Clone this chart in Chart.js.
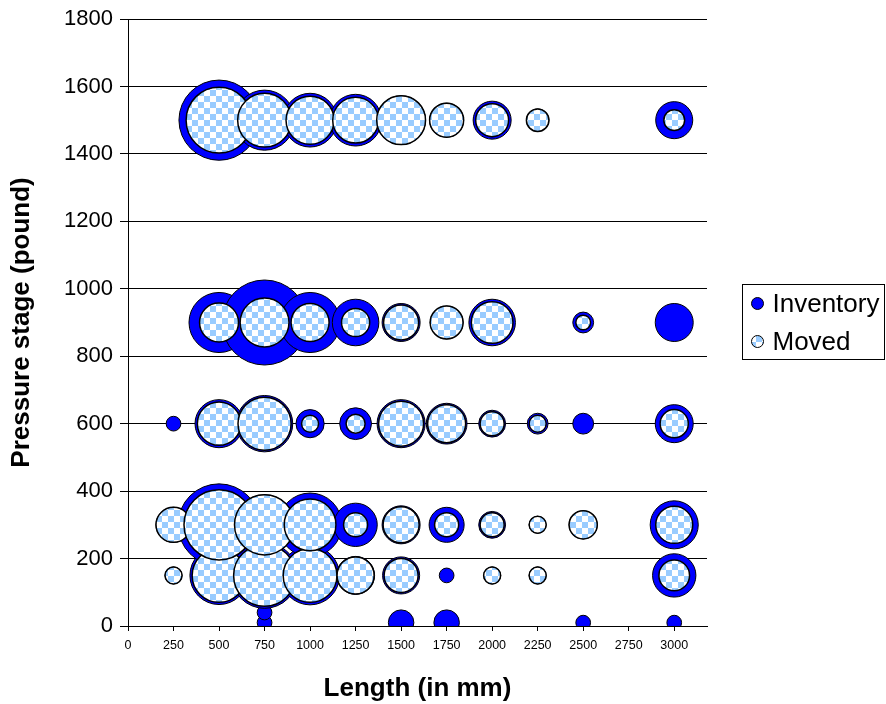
<!DOCTYPE html>
<html>
<head>
<meta charset="utf-8">
<title>Pressure stage vs length</title>
<script src="https://cdn.jsdelivr.net/npm/chart.js@4.4.1/dist/chart.umd.min.js"></script>
<style>
    html, body { margin: 0; padding: 0; background: #ffffff; }
    #wrap { width: 886px; height: 704px; position: relative; }
</style>
</head>
<body>
<div id="wrap"><canvas id="bubbleChart" width="886" height="704"></canvas></div>
<script>
// Lengths (mm) on the x axis, one column per entry below
const LENGTHS = [250, 500, 750, 1000, 1250, 1500, 1750, 2000, 2250, 2500, 2750, 3000];
// Pressure stages (pound), one row per entry below
const STAGES = [10, 40, 150, 300, 600, 900, 1500];

// Inventory counts per stage (rows) and length (columns)
const INVENTORY = [
    [null, null, 3, null, null, 9, 9, null, null, 3, null, 3],
    [null, null, 3, null, null, null, null, null, null, null, null, null],
    [4, 47, 60, 48, 20, 19, 3, 4, 4, null, null, 26],
    [17, 93, 50, 56, 26, 20, 17, 10, 4, 11, null, 32],
    [3, 32, 44, 11, 14, 32, 23, 10, 6, 6, null, 20],
    [null, 50, 100, 50, 30, 20, 15, 30, null, 6, null, 20],
    [null, 89, 50, 40, 37, 33, 16, 20, 7, null, null, 19],
];

// Moved counts per stage (rows) and length (columns)
const MOVED = [
    [null, null, null, null, null, null, null, null, null, null, null, null],
    [null, null, null, null, null, null, null, null, null, null, null, null],
    [4, 40, 53, 40, 19, 16, null, 4, 4, null, null, 13],
    [17, 68, 50, 37, 8, 18, 8, 8, 4, 11, null, 19],
    [null, 26, 39, 4, 5, 28, 20, 8, 4, null, null, 11],
    [null, 21, 33, 20, 11, 17, 15, 24, null, 3, null, null],
    [null, 60, 40, 32, 29, 33, 16, 15, 7, null, null, 6],
];

// Axis ticks
const X_TICKS = [0, 250, 500, 750, 1000, 1250, 1500, 1750, 2000, 2250, 2500, 2750, 3000];
const Y_TICKS = [0, 200, 400, 600, 800, 1000, 1200, 1400, 1600, 1800];

const SERIES_NAMES = ['Inventory', 'Moved'];

const FONT = 'Liberation Sans, Arial, sans-serif';
const BLUE = '#0000FF';
const CHECK_BLUE = '#99CCFF';
const SIZE_FACTOR = 4.25; // bubble area proportional to count

// Light blue / white checkerboard fill like the original
function makeChecker() {
    const c = document.createElement('canvas');
    c.width = 12;
    c.height = 12;
    const g = c.getContext('2d');
    g.fillStyle = '#ffffff';
    g.fillRect(0, 0, 12, 12);
    g.fillStyle = CHECK_BLUE;
    g.fillRect(0, 0, 6, 6);
    g.fillRect(6, 6, 6, 6);
    return g.createPattern(c, 'repeat');
}

// Turn a stage x length table into bubble points
function toPoints(table) {
    const pts = [];
    STAGES.forEach((stage, i) => {
        LENGTHS.forEach((len, j) => {
            const v = table[i][j];
            if (v == null) return;
            pts.push({ x: len, y: stage, r: SIZE_FACTOR * Math.sqrt(v), count: v });
        });
    });
    return pts;
}

const checker = makeChecker();

// Boxed legend on the right, like the Excel one
const boxLegend = {
    id: 'boxLegend',
    afterDraw(chart) {
        const ctx = chart.ctx;
        const area = chart.chartArea;
        const x0 = area.right + 35.5;
        const y0 = 284.5;
        ctx.save();
        ctx.strokeStyle = '#000';
        ctx.lineWidth = 1;
        ctx.strokeRect(x0, y0, 142, 75);
        const items = [
            { text: SERIES_NAMES[0], fill: BLUE, y: y0 + 19 },
            { text: SERIES_NAMES[1], fill: checker, y: y0 + 57 },
        ];
        ctx.font = '26px ' + FONT;
        ctx.textBaseline = 'middle';
        ctx.textAlign = 'left';
        items.forEach(it => {
            ctx.beginPath();
            ctx.arc(x0 + 15, it.y, 6, 0, Math.PI * 2);
            ctx.fillStyle = it.fill;
            ctx.fill();
            ctx.strokeStyle = '#000';
            ctx.lineWidth = 1;
            ctx.stroke();
            ctx.fillStyle = '#000';
            ctx.fillText(it.text, x0 + 30, it.y + 1);
        });
        ctx.restore();
    }
};

const ctx = document.getElementById('bubbleChart').getContext('2d');

new Chart(ctx, {
    type: 'bubble',
    data: {
        datasets: [
            {
                label: SERIES_NAMES[0],
                data: toPoints(INVENTORY),
                backgroundColor: BLUE,
                borderColor: '#000',
                borderWidth: 1,
                clip: 0,
                order: 2,
            },
            {
                label: SERIES_NAMES[1],
                data: toPoints(MOVED),
                backgroundColor: checker,
                borderColor: '#000',
                borderWidth: 1.5,
                clip: 0,
                order: 1,
            }
        ]
    },
    options: {
        responsive: false,
        animation: false,
        events: [],
        layout: {
            autoPadding: false,
            padding: { top: 19, right: 179, bottom: 0, left: 0 }
        },
        plugins: {
            legend: { display: false },
            tooltip: { enabled: false },
        },
        scales: {
            x: {
                type: 'linear',
                min: 0,
                max: 3180,
                afterFit: s => { s.height = 78; s.paddingLeft = 0; s.paddingRight = 0; },
                afterBuildTicks: s => { s.ticks = X_TICKS.map(v => ({ value: v })); },
                ticks: {
                    color: '#000',
                    font: { family: FONT, size: 12.5 },
                    padding: 7,
                    maxRotation: 0,
                    autoSkip: false,
                    callback: v => String(v),
                },
                grid: {
                    drawOnChartArea: false,
                    drawTicks: true,
                    tickLength: 5,
                    color: '#000',
                },
                border: { color: '#000', width: 1 },
                title: {
                    display: true,
                    text: 'Length (in mm)',
                    color: '#000',
                    font: { family: FONT, size: 26, weight: 'bold' },
                    padding: { top: 0, bottom: 0 },
                }
            },
            y: {
                type: 'linear',
                min: 0,
                max: 1800,
                afterFit: s => { s.width = 128; s.paddingTop = 0; s.paddingBottom = 0; },
                afterBuildTicks: s => { s.ticks = Y_TICKS.map(v => ({ value: v })); },
                ticks: {
                    color: '#000',
                    font: { family: FONT, size: 22 },
                    padding: 7,
                    autoSkip: false,
                    callback: v => String(v),
                },
                grid: {
                    color: '#000',
                    lineWidth: 1,
                    tickLength: 8,
                },
                border: { color: '#000', width: 1 },
                title: {
                    display: true,
                    text: 'Pressure stage (pound)',
                    color: '#000',
                    font: { family: FONT, size: 26, weight: 'bold' },
                    padding: { top: 6, bottom: 0 },
                }
            }
        }
    },
    plugins: [boxLegend]
});
</script>
</body>
</html>
